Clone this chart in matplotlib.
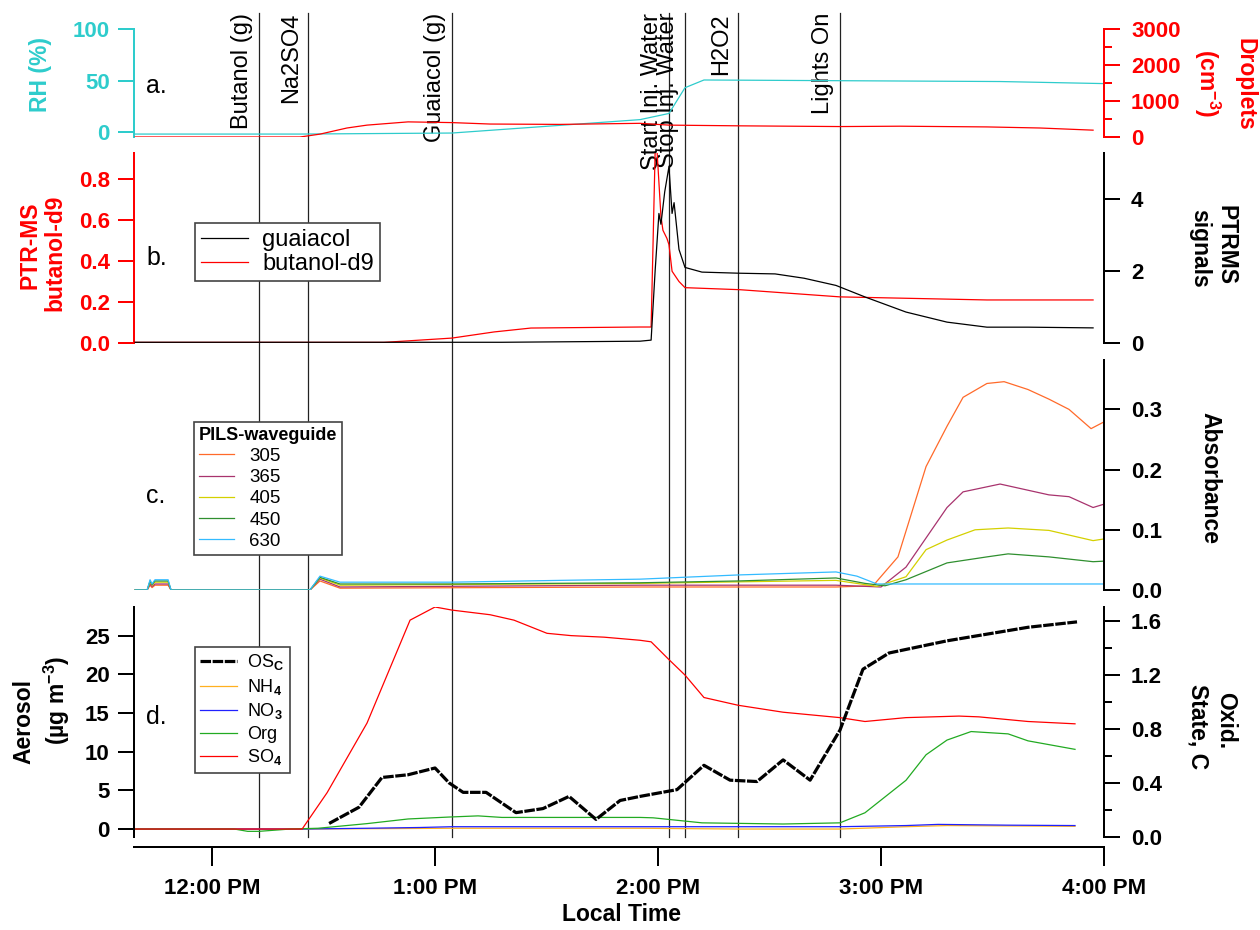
import matplotlib
matplotlib.use('Agg')
import matplotlib.pyplot as plt
from matplotlib.ticker import FormatStrFormatter

plt.rcParams['font.family'] = ['Liberation Sans', 'DejaVu Sans']
plt.rcParams['font.weight'] = 'bold'
plt.rcParams['mathtext.fontset'] = 'custom'
plt.rcParams['mathtext.rm'] = 'Liberation Sans'
plt.rcParams['mathtext.bf'] = 'Liberation Sans:bold'

# ---- data (time in decimal hours, local time) ----
# panel a
rh_t = [11.655, 12.395, 13.076, 13.919, 14.049, 14.121, 14.206, 15.534, 16.0]
rh = [-2, -2, -1, 12, 18, 43, 50.5, 49, 47]
drop_t = [11.655, 12.395, 12.484, 12.605, 12.695, 12.879, 13.076, 13.247, 13.561,
          13.919, 14.049, 14.368, 14.816, 15.085, 15.475, 15.713, 15.951]
droplets = [0, 0, 80, 250, 330, 420, 400, 360, 350, 380, 330, 310, 290, 300, 280, 250, 190]

# panel b
but_t = [11.655, 12.771, 13.076, 13.265, 13.430, 13.919, 13.969, 13.978, 13.987, 13.996,
         14.013, 14.022, 14.040, 14.049, 14.063, 14.094, 14.121, 14.368, 14.816, 15.475, 15.951]
butanol = [0.003, 0.003, 0.024, 0.054, 0.073, 0.078, 0.078, 0.5, 0.93, 0.93,
           0.62, 0.55, 0.51, 0.48, 0.35, 0.30, 0.27, 0.26, 0.225, 0.21, 0.21]
gua_t = [11.655, 13.300, 13.919, 13.969, 13.987, 14.004, 14.013, 14.030, 14.049, 14.063,
         14.072, 14.094, 14.121, 14.197, 14.359, 14.525, 14.655, 14.798, 14.928, 15.112,
         15.296, 15.475, 15.659, 15.951]
guaiacol = [0.02, 0.02, 0.05, 0.08, 2.0, 3.6, 3.3, 4.2, 4.9, 3.6,
            3.9, 2.6, 2.1, 1.97, 1.94, 1.92, 1.8, 1.6, 1.28, 0.86,
            0.58, 0.44, 0.44, 0.42]

# panel c (PILS-waveguide absorbance)
blip_t = [11.655, 11.709, 11.722, 11.731, 11.744, 11.803, 11.816, 12.439, 12.484, 12.574]
a630_t = blip_t + [13.076, 13.561, 13.919, 14.359, 14.798, 14.892, 14.982, 15.036, 16.004]
a630 = [0, 0, 0.017, 0.01, 0.017, 0.017, 0, 0, 0.023, 0.013,
        0.013, 0.016, 0.018, 0.025, 0.03, 0.023, 0.01, 0.01, 0.01]
a450_t = blip_t + [13.076, 13.919, 14.359, 14.798, 14.928, 15.018, 15.112, 15.296, 15.475,
                   15.570, 15.753, 15.951, 16.004]
a450 = [0, 0, 0.015, 0.009, 0.015, 0.015, 0, 0, 0.021, 0.01,
        0.01, 0.012, 0.015, 0.02, 0.011, 0.007, 0.017, 0.045, 0.055,
        0.06, 0.055, 0.047, 0.048]
a405_t = blip_t + [13.919, 14.798, 14.982, 15.112, 15.202, 15.296, 15.422, 15.570, 15.753,
                   15.951, 16.004]
a405 = [0, 0, 0.013, 0.008, 0.013, 0.013, 0, 0, 0.02, 0.008,
        0.011, 0.016, 0.006, 0.022, 0.067, 0.083, 0.1, 0.103, 0.099, 0.082, 0.085]
a365_t = blip_t + [13.919, 14.798, 15.000, 15.112, 15.296, 15.368, 15.534, 15.753, 15.843,
                   15.951, 16.004]
a365 = [0, 0, 0.01, 0.006, 0.01, 0.01, 0, 0, 0.018, 0.005,
        0.008, 0.008, 0.005, 0.038, 0.137, 0.163, 0.176, 0.158, 0.155, 0.137, 0.143]
a305_t = blip_t + [13.919, 14.798, 14.964, 15.076, 15.202, 15.296, 15.368, 15.475, 15.552,
                   15.659, 15.753, 15.843, 15.942, 16.004]
a305 = [0, 0, 0.008, 0.004, 0.008, 0.008, 0, 0, 0.015, 0.003,
        0.005, 0.005, 0.007, 0.055, 0.205, 0.272, 0.32, 0.343, 0.346,
        0.333, 0.317, 0.3, 0.268, 0.28]

# panel d (aerosol composition)
so4_t = [11.655, 12.404, 12.516, 12.695, 12.888, 13.0, 13.076, 13.247, 13.354, 13.502,
         13.610, 13.758, 13.919, 13.969, 14.049, 14.121, 14.206, 14.359, 14.561, 14.816,
         14.928, 15.112, 15.350, 15.439, 15.659, 15.870]
so4 = [0, 0, 4.7, 13.7, 27, 28.7, 28.3, 27.7, 27, 25.3,
       25, 24.8, 24.4, 24.2, 21.9, 19.9, 17, 16, 15.1, 14.4,
       13.9, 14.4, 14.6, 14.5, 13.9, 13.6]
org_t = [11.655, 12.1, 12.16, 12.21, 12.35, 12.475, 12.695, 12.879, 13.063, 13.193,
         13.300, 13.919, 13.978, 14.197, 14.561, 14.816, 14.928, 15.112, 15.202, 15.296,
         15.404, 15.570, 15.659, 15.870]
org = [0, 0, -0.3, -0.3, 0, 0.1, 0.7, 1.3, 1.55, 1.7,
       1.5, 1.5, 1.45, 0.8, 0.65, 0.8, 2.1, 6.3, 9.6, 11.5,
       12.6, 12.3, 11.4, 10.3]
no3_t = [11.655, 12.404, 12.695, 12.933, 13.076, 13.919, 14.816, 15.112, 15.256, 15.570, 15.870]
no3 = [0, 0, 0.1, 0.2, 0.3, 0.3, 0.3, 0.45, 0.6, 0.5, 0.45]
nh4_t = [11.655, 12.404, 13.076, 13.919, 14.359, 14.816, 15.112, 15.296, 15.870]
nh4 = [0, 0, 0.1, 0.1, 0, 0, 0.3, 0.45, 0.35]
osc_t = [12.525, 12.659, 12.762, 12.879, 13.0, 13.063, 13.126, 13.229, 13.363, 13.484,
         13.601, 13.722, 13.830, 13.919, 14.085, 14.206, 14.323, 14.444, 14.561, 14.682,
         14.816, 14.919, 15.036, 15.296, 15.659, 15.879]
osc = [0.1, 0.22, 0.44, 0.46, 0.51, 0.4, 0.33, 0.33, 0.18, 0.21,
       0.3, 0.13, 0.27, 0.3, 0.35, 0.53, 0.42, 0.41, 0.57, 0.42,
       0.79, 1.24, 1.36, 1.45, 1.55, 1.59]

# events
event_t = [12.211, 12.430, 13.076, 14.049, 14.121, 14.359, 14.816]
event_lbl = ['Butanol (g)', 'Na2SO4', 'Guaiacol (g)', 'Start Inj. Water',
             'Stop Inj. Water', 'H2O2', 'Lights On']

xticks = [12, 13, 14, 15, 16]
xtick_lbl = ['12:00 PM', '1:00 PM', '2:00 PM', '3:00 PM', '4:00 PM']

CYAN = '#2ECCCC'
RED = '#FF0000'
XLIM = (11.65, 16.0)
LW = 0.9

fig = plt.figure(figsize=(12.6, 9.3), dpi=100)
FW, FH = 1260.0, 930.0


def box(top, bottom):
    return [134 / FW, 1 - bottom / FH, 970 / FW, (bottom - top) / FH]


def fpos(px, py):
    return px / FW, 1 - py / FH


def one_spine(ax, side, color):
    for s in ['left', 'right', 'top', 'bottom']:
        ax.spines[s].set_visible(s == side)
    ax.spines[side].set_color(color)
    ax.spines[side].set_linewidth(1.44)
    ax.tick_params(axis='y', which='both', direction='out', colors=color, width=1.44,
                   labelsize=16, left=(side == 'left'), right=(side == 'right'),
                   labelleft=(side == 'left'), labelright=(side == 'right'))
    ax.tick_params(axis='y', which='major', length=11.5, pad=6 if side == 'left' else 8)
    ax.tick_params(axis='y', which='minor', length=6)
    ax.tick_params(axis='x', which='both', bottom=False, top=False, labelbottom=False)
    ax.set_xlim(*XLIM)
    ax.patch.set_visible(False)


# overlay for event lines / labels
ax_ov = fig.add_axes([134 / FW, 0, 970 / FW, 1], zorder=-1)
ax_ov.set_xlim(*XLIM)
ax_ov.set_ylim(FH, 0)
ax_ov.axis('off')
for t, lbl in zip(event_t, event_lbl):
    ax_ov.plot([t, t], [13, 837], color='#222222', lw=0.9)
    ax_ov.annotate(lbl, (t, 13), xytext=(-6, 0), textcoords='offset pixels', rotation=90,
                   ha='right', va='top', fontsize=17, fontweight='normal')

# ---- panel a ----
ax_a = fig.add_axes(box(29, 137))
ax_a.plot(rh_t, rh, color=CYAN, lw=LW)
ax_a.set_ylim(-4.85, 100)
ax_a.set_yticks([0, 50, 100])
one_spine(ax_a, 'left', CYAN)
ax_a2 = ax_a.twinx()
ax_a2.plot(drop_t, droplets, color=RED, lw=LW)
ax_a2.set_ylim(0, 3000)
ax_a2.set_yticks([0, 1000, 2000, 3000])
ax_a2.set_yticks([500, 1500, 2500], minor=True)
one_spine(ax_a2, 'right', RED)

# ---- panel b ----
ax_b = fig.add_axes(box(153, 343))
hb, = ax_b.plot(but_t, butanol, color=RED, lw=LW)
ax_b.set_ylim(0, 0.927)
ax_b.set_yticks([0, 0.2, 0.4, 0.6, 0.8])
ax_b.yaxis.set_major_formatter(FormatStrFormatter('%.1f'))
one_spine(ax_b, 'left', RED)
ax_b2 = ax_b.twinx()
hg, = ax_b2.plot(gua_t, guaiacol, color='black', lw=LW)
ax_b2.set_ylim(0, 5.28)
ax_b2.set_yticks([0, 2, 4])
one_spine(ax_b2, 'right', 'black')
leg = ax_b2.legend([hg, hb], ['guaiacol', 'butanol-d9'], loc='upper left',
                   bbox_to_anchor=fpos(195, 223), bbox_transform=fig.transFigure,
                   borderaxespad=0, prop={'weight': 'normal', 'size': 17}, fancybox=False,
                   edgecolor='#444444', framealpha=1, handlelength=2.0, handletextpad=0.6,
                   labelspacing=0.1, borderpad=0.25)
leg.get_frame().set_linewidth(1.2)

# ---- panel c ----
ax_c = fig.add_axes(box(360, 590))
hc = []
for t, v, c, lab in [(a305_t, a305, '#FF6A2A', '305'), (a365_t, a365, '#A8336E', '365'),
                     (a405_t, a405, '#D4D000', '405'), (a450_t, a450, '#2F8F2F', '450'),
                     (a630_t, a630, '#33BBFF', '630')]:
    h, = ax_c.plot(t, v, color=c, lw=LW, label=lab)
    hc.append(h)
ax_c.set_ylim(0, 0.382)
ax_c.set_yticks([0, 0.1, 0.2, 0.3])
ax_c.yaxis.set_major_formatter(FormatStrFormatter('%.1f'))
ax_c.yaxis.tick_right()
one_spine(ax_c, 'right', 'black')
leg = ax_c.legend(handles=hc, title='PILS-waveguide', alignment='left', loc='upper left',
                  bbox_to_anchor=fpos(194, 422), bbox_transform=fig.transFigure,
                  borderaxespad=0, prop={'weight': 'normal', 'size': 13.5},
                  title_fontproperties={'weight': 'bold', 'size': 13}, fancybox=False,
                  edgecolor='#444444', framealpha=1, handlelength=1.9, handletextpad=0.8,
                  labelspacing=0.22, borderpad=0.25)
leg.get_frame().set_linewidth(1.2)

# ---- panel d ----
ax_d = fig.add_axes(box(607, 837))
h_nh4, = ax_d.plot(nh4_t, nh4, color='#FFB020', lw=LW)
h_no3, = ax_d.plot(no3_t, no3, color='#2020FF', lw=LW)
h_org, = ax_d.plot(org_t, org, color='#22AA22', lw=LW)
h_so4, = ax_d.plot(so4_t, so4, color=RED, lw=LW)
ax_d.set_ylim(-1.03, 28.7)
ax_d.set_yticks([0, 5, 10, 15, 20, 25])
one_spine(ax_d, 'left', 'black')
ax_d.spines['bottom'].set_visible(True)
ax_d.spines['bottom'].set_linewidth(1.44)
ax_d.spines['bottom'].set_position(('outward', 7.2))
ax_d.set_xticks(xticks)
ax_d.set_xticklabels(xtick_lbl)
ax_d.tick_params(axis='x', which='major', bottom=True, labelbottom=True, direction='out',
                 length=14, width=1.44, labelsize=16, pad=8)
ax_d2 = ax_d.twinx()
h_osc, = ax_d2.plot(osc_t, osc, color='black', lw=2.3, linestyle=(0, (3.3, 0.5)))
ax_d2.set_ylim(0, 1.70)
ax_d2.set_yticks([0, 0.4, 0.8, 1.2, 1.6])
ax_d2.set_yticks([0.2, 0.6, 1.0, 1.4], minor=True)
ax_d2.yaxis.set_major_formatter(FormatStrFormatter('%.1f'))
one_spine(ax_d2, 'right', 'black')
leg = ax_d2.legend([h_osc, h_nh4, h_no3, h_org, h_so4],
                   ['OS$_\\mathrm{C}$', 'NH$_4$', 'NO$_3$', 'Org', 'SO$_4$'],
                   loc='upper left', bbox_to_anchor=fpos(195, 647),
                   bbox_transform=fig.transFigure, borderaxespad=0,
                   prop={'weight': 'normal', 'size': 13}, fancybox=False,
                   edgecolor='#444444', framealpha=1, handlelength=2.0, handletextpad=0.6,
                   labelspacing=0.25, borderpad=0.3)
leg.get_frame().set_linewidth(1.2)

# ---- axis labels ----
lab = dict(fontsize=16.5, fontweight='bold', ha='center', va='center')
fig.text(*fpos(40, 74), 'RH (%)', color=CYAN, rotation=90, **lab)
fig.text(*fpos(1245, 84), 'Droplets', color=RED, rotation=270, **lab)
fig.text(*fpos(1207, 83), '(cm$^{\\mathbf{-3}}$)', color=RED, rotation=270, **lab)
fig.text(*fpos(30, 245), 'PTR-MS', color=RED, rotation=90, **lab)
fig.text(*fpos(55, 253), 'butanol-d9', color=RED, rotation=90, **lab)
fig.text(*fpos(1226, 245), 'PTRMS', color='black', rotation=270, **lab)
fig.text(*fpos(1200, 248), 'signals', color='black', rotation=270, **lab)
fig.text(*fpos(1210, 478), 'Absorbance', color='black', rotation=270, **lab)
fig.text(*fpos(24, 721), 'Aerosol', color='black', rotation=90, **lab)
fig.text(*fpos(57, 700), '(µg m$^{\\mathbf{-3}}$)', color='black', rotation=90, **lab)
fig.text(*fpos(1226, 721), 'Oxid.', color='black', rotation=270, **lab)
fig.text(*fpos(1198, 727), 'State, C', color='black', rotation=270, **lab)
fig.text(*fpos(622, 914), 'Local Time', color='black', **lab)

for letter, py in [('a.', 86), ('b.', 258), ('c.', 496), ('d.', 717)]:
    fig.text(*fpos(146, py), letter, fontsize=18, fontweight='normal', ha='left', va='center')

plt.savefig('out.png', dpi=100)
